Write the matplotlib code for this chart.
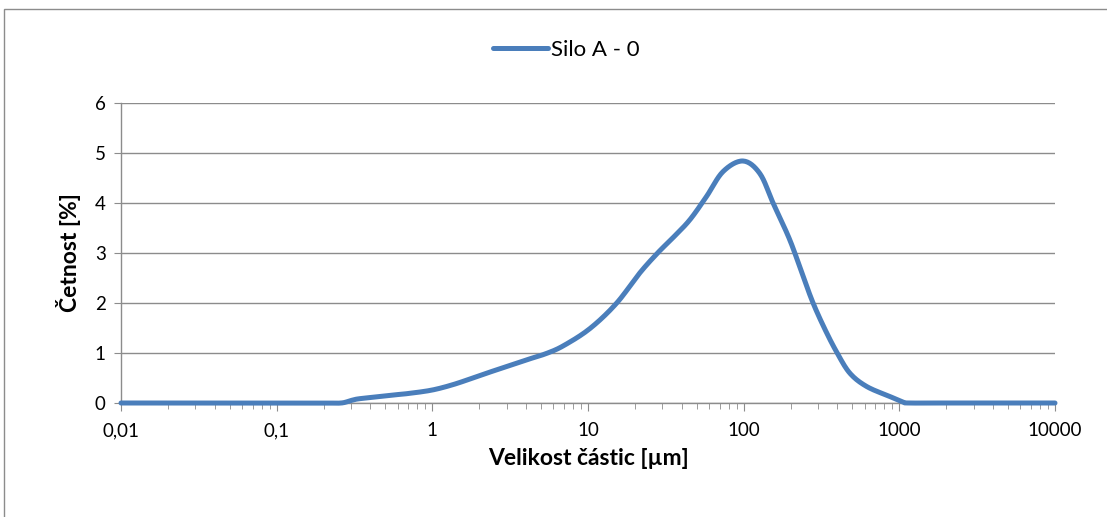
import matplotlib
matplotlib.use("Agg")
import matplotlib.pyplot as plt
import matplotlib.ticker as mticker
from matplotlib.patches import Rectangle
import numpy as np

# Data
size_um = [0.01, 0.02, 0.05, 0.1, 0.2, 0.26, 0.3, 0.33, 0.4, 0.56, 0.7, 1.0, 1.4, 1.93, 3.0, 4.0, 5.4,
           7.0, 10.3, 15.2, 21.5, 28.2, 35.0, 45.0, 57.7, 73.8, 99.0, 127.0, 155.0,
           198.0, 241.0, 280.0, 332.0, 394.0, 480.0, 617.0, 869.0, 1054.0, 1150.0, 2000.0, 5000.0,
           10000.0]
freq_pct = [0, 0, 0, 0, 0, 0.0, 0.05, 0.08, 0.11, 0.16, 0.19, 0.26, 0.38, 0.53, 0.73, 0.86, 0.99,
            1.15, 1.49, 1.99, 2.6, 3.01, 3.3, 3.66, 4.13, 4.63, 4.84, 4.59, 3.99,
            3.26, 2.53, 1.99, 1.48, 1.03, 0.6, 0.33, 0.13, 0.02, 0.0, 0, 0,
            0]
xtick_vals = [0.01, 0.1, 1, 10, 100, 1000, 10000]
xtick_labels = ["0,01", "0,1", "1", "10", "100", "1000", "10000"]
ytick_vals = [0, 1, 2, 3, 4, 5, 6]
series_name = "Silo A - 0"


def smooth_line(xs, ys, n=16):
    """Catmull-Rom smoothing in log-x space (like a spreadsheet 'smoothed line')."""
    lx = np.log10(np.asarray(xs, float))
    y = np.asarray(ys, float)
    P = np.column_stack([lx, y])
    P = np.vstack([P[0], P, P[-1]])
    out = []
    for i in range(1, len(P) - 2):
        p0, p1, p2, p3 = P[i - 1], P[i], P[i + 1], P[i + 2]
        t = np.linspace(0, 1, n, endpoint=False)[:, None]
        seg = 0.5 * ((2 * p1) + (-p0 + p2) * t + (2 * p0 - 5 * p1 + 4 * p2 - p3) * t ** 2
                     + (-p0 + 3 * p1 - 3 * p2 + p3) * t ** 3)
        out.append(seg)
    out.append(P[-2][None, :])
    out = np.vstack(out)
    return 10 ** out[:, 0], out[:, 1]


plt.rcParams['font.family'] = ['Lato', 'DejaVu Sans']

fig = plt.figure(figsize=(11.07, 5.17), dpi=100)
fig.patch.set_facecolor('white')
fig.patches.append(Rectangle((4/1107, -0.1), 1.2, 1 - 9/517 + 0.1, transform=fig.transFigure,
                             fill=False, edgecolor='#8c8c8c', linewidth=1.0))

ax = fig.add_axes([121/1107, 1 - 403/517, (1055 - 121)/1107, (403 - 103)/517])

sx, sy = smooth_line(size_um, freq_pct)
line, = ax.plot(sx, sy, color='#4a7ebb', linewidth=3.6, solid_capstyle='round',
                solid_joinstyle='round', label=series_name, zorder=3, clip_on=False)

ax.set_xscale('log')
ax.set_xlim(0.01, 10000)
ax.set_ylim(0, 6)

ax.set_xticks(xtick_vals)
ax.set_xticklabels(xtick_labels)
ax.xaxis.set_minor_locator(mticker.LogLocator(base=10, subs=np.arange(2, 10), numticks=100))
ax.xaxis.set_minor_formatter(mticker.NullFormatter())
ax.set_yticks(ytick_vals)

ax.yaxis.grid(True, color='#8c8c8c', linewidth=1.0)
ax.xaxis.grid(False)
ax.set_axisbelow(True)

for s in ['top', 'right']:
    ax.spines[s].set_visible(False)
for s in ['left', 'bottom']:
    ax.spines[s].set_color('#8c8c8c')
    ax.spines[s].set_linewidth(1.0)

ax.tick_params(axis='both', which='major', direction='out', color='#8c8c8c', labelsize=13.5,
               labelcolor='black')
ax.tick_params(axis='x', which='major', length=6, pad=8)
ax.tick_params(axis='x', which='minor', length=4, color='#8c8c8c')
ax.tick_params(axis='y', which='major', length=5, pad=6)

ax.set_xlabel("Velikost částic [µm]", fontsize=16.5, fontweight='bold', labelpad=6)
ax.set_ylabel("Četnost [%]", fontsize=16.5, fontweight='bold', labelpad=10)

fig.legend(handles=[line], labels=[series_name], loc='center', bbox_to_anchor=(566/1107, 1 - 50/517),
           frameon=False, fontsize=16, handlelength=2.5, handletextpad=0.1)

fig.savefig("out.png", dpi=100)
